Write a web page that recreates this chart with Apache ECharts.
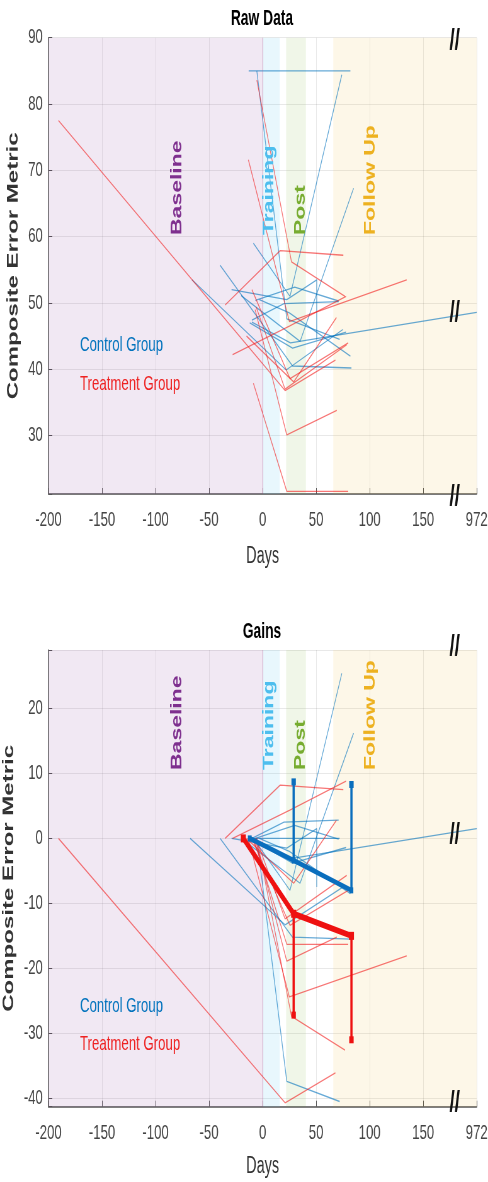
<!DOCTYPE html>
<html>
<head>
<meta charset="utf-8">
<script src="https://cdn.jsdelivr.net/npm/echarts@6/dist/echarts.min.js"></script>
<style>
  html, body { margin: 0; padding: 0; background: #fff; overflow: hidden; }
  /* the source figure is squeezed horizontally, so draw wide and squeeze */
  #chart { width: 775px; height: 1182px; transform: scaleX(0.6297); transform-origin: 0 0; }
</style>
</head>
<body>
<div id="chart"></div>
<script>
// x axis: -200..200, last tick stands for day 972 (axis break)
var xTickLabels = ['-200', '-150', '-100', '-50', '0', '50', '100', '150', '972'];

// Raw Data, one polyline per subject: [day, score]
var rawControl = [
    [[-13, 85], [35, 85], [82, 85]],
    [[-8.6, 59], [25.6, 51], [74, 84.4]],
    [[-5.4, 85], [22.6, 47.6], [72, 44.5]],
    [[-10, 47.1], [26, 44], [200, 48.6]],
    [[-20, 51.1], [35, 44.2], [85, 67.3]],
    [[-66, 53.5], [22, 39.9], [75, 46]],
    [[-39.7, 55.7], [28, 40.5], [83, 40.2]],
    [[-6.8, 50.4], [30, 52.4], [71, 50.3]],
    [[-10, 47.4], [20, 49.9], [71, 50.2]],
    [[-12, 47], [28, 43.2], [78, 45.6]],
    [[-3, 50.5], [25, 48.5], [82, 42]],
    [[-29, 52], [22.6, 50.5], [50.6, 53.5], [50.6, 44.5]]
];
var rawTreatment = [
    [[-190.7, 77.5], [21, 36.8], [68, 41.4]],
    [[-8.6, 37.9], [22.6, 21.6], [80, 21.6]],
    [[-7, 49], [22.6, 30.1], [69.3, 33.8]],
    [[-13.3, 71.6], [25, 47.2], [134.6, 53.5]],
    [[-35, 49.7], [16.4, 57.9], [75.4, 57.2]],
    [[-5.4, 83.6], [27, 56.2], [77, 51]],
    [[-28, 42.2], [25, 46.5], [78, 51]],
    [[-6, 49.4], [21, 37], [78.6, 43.7]],
    [[-10, 52], [25.6, 38.6], [80, 44]],
    [[-15, 45], [29, 38.1], [69, 47.8]]
];

// Gains, one polyline per subject: [day, change from baseline]
var gainControl = [
    [[-13, 0], [35, 0], [72, 0]],
    [[-8.6, 0], [25.6, -8], [74, 25.4]],
    [[-5.4, 0], [22.6, -37.4], [72, -40.5]],
    [[-10, 0], [26, -3.1], [200, 1.5]],
    [[-20, 0], [35, -6.9], [85, 16.2]],
    [[-67.7, 0], [21, -13.3], [75, -7.5]],
    [[-39.6, 0], [28, -15.2], [83, -15.5]],
    [[-6.8, 0], [30, 2], [71, -0.1]],
    [[-10, 0], [20, 2.5], [71, 2.8]],
    [[-12, 0], [28, -3.8], [78, -1.4]],
    [[-3, 0], [25, -2], [82, -8.5]],
    [[-29, 0], [22.6, -1.5], [50.6, 1.5], [50.6, -7.5]]
];
var gainTreatment = [
    [[-190.7, 0], [21, -40.7], [68, -36.1]],
    [[-8.6, 0], [22.6, -16.3], [80, -16.3]],
    [[-7, 0], [22.6, -18.9], [69.3, -15.2]],
    [[-13.3, 0], [25, -24.4], [134.6, -18.1]],
    [[-35, 0], [16.4, 8.2], [75.4, 7.5]],
    [[-5.4, 0], [27, -27.4], [77, -32.6]],
    [[-28, 0], [25, 4.3], [78, 8.8]],
    [[-6, 0], [21, -12.4], [78.6, -5.7]],
    [[-10, 0], [25.6, -13.4], [80, -8]],
    [[-15, 0], [29, -6.9], [69, 2.8]]
];

// group means of the gains and their one-sided error bars
var meanControl = [[-12, 0], [29, -3.4], [83, -8]];
var meanTreatment = [[-18, 0], [29, -11.6], [83, -15]];
var errDays = [29, 83];
var errControlTop = [8.7, 8.3];
var errTreatmentBottom = [-27.2, -31];

// study phases [from, to] in days
var phases = [
    ['Baseline', -200, 0],
    ['Training', 0, 16],
    ['Post', 22, 40.5],
    ['Follow Up', 66, 200]
];

var BLUE = '#0072bd', RED = '#f21a1a';
var FONT = '"Liberation Sans", Arial, sans-serif';
var phaseFill = ['rgba(126,47,142,0.11)', 'rgba(77,190,238,0.13)', 'rgba(119,172,48,0.11)', 'rgba(237,177,32,0.10)'];
var phaseText = ['#7e2f8e', '#4dbeee', '#77ac30', '#edb120'];
var phaseTextX = [281.6, 427.7, 477.5, 588.7];

var myChart = echarts.init(document.getElementById('chart'));

function xAxisOf(i, gap) {
    return {
        gridIndex: i, type: 'value', min: -200, max: 200, interval: 50,
        name: 'Days', nameLocation: 'middle', nameGap: gap,
        nameTextStyle: {fontSize: 23, color: '#333', fontFamily: FONT},
        axisLine: {onZero: false, lineStyle: {color: '#555', width: 1.5}},
        axisTick: {inside: true, length: 6, lineStyle: {color: '#555'}},
        axisLabel: {
            margin: 16, fontSize: 21, color: '#444', fontFamily: FONT,
            formatter: function (v) { return xTickLabels[Math.round((v + 200) / 50)]; }
        },
        splitLine: {show: true, lineStyle: {color: 'rgba(0,0,0,0.09)'}}
    };
}

function yAxisOf(i, min, max) {
    return {
        gridIndex: i, type: 'value', min: min, max: max,
        name: 'Composite Error Metric', nameLocation: 'middle', nameGap: 40,
        nameTextStyle: {fontSize: 24, fontWeight: 'bold', color: '#333', fontFamily: FONT},
        axisLine: {show: true, onZero: false, lineStyle: {color: '#555', width: 1.5}},
        axisTick: {show: true, inside: true, length: 6, lineStyle: {color: '#555'}},
        axisLabel: {
            margin: 9, fontSize: 21, color: '#444', fontFamily: FONT,
            formatter: function (v) { return Math.abs(v % 10) < 1e-6 ? String(v) : ''; }
        },
        splitLine: {show: true, lineStyle: {color: 'rgba(0,0,0,0.09)'}}
    };
}

// background bands + the day 0 line
function bands(i) {
    return {
        type: 'line', xAxisIndex: i, yAxisIndex: i, data: [], z: 1, silent: true,
        markArea: {
            silent: true,
            data: phases.map(function (p, k) {
                return [{xAxis: p[1], itemStyle: {color: phaseFill[k]}}, {xAxis: p[2]}];
            })
        },
        markLine: {
            silent: true, symbol: 'none', label: {show: false},
            lineStyle: {color: 'rgba(175,80,140,0.55)', width: 1, type: 'solid'},
            data: [{xAxis: 0}]
        }
    };
}

function thin(data, color, i) {
    return {
        type: 'line', xAxisIndex: i, yAxisIndex: i, data: data, symbol: 'none', z: 3, silent: true,
        lineStyle: {color: color, width: 1.3, opacity: 0.6}
    };
}

var series = [bands(0), bands(1)];
rawControl.forEach(function (d) { series.push(thin(d, BLUE, 0)); });
rawTreatment.forEach(function (d) { series.push(thin(d, RED, 0)); });
gainControl.forEach(function (d) { series.push(thin(d, BLUE, 1)); });
gainTreatment.forEach(function (d) { series.push(thin(d, RED, 1)); });

function errBar(day, from, to, color) {
    return {
        type: 'line', xAxisIndex: 1, yAxisIndex: 1, z: 5, silent: true,
        data: [{value: [day, from], symbol: 'none'}, {value: [day, to]}],
        symbol: 'rect', symbolSize: 7,
        lineStyle: {color: color, width: 3.5}, itemStyle: {color: color}
    };
}
errDays.forEach(function (d, k) {
    series.push(errBar(d, meanControl[k + 1][1], errControlTop[k], '#0a6ebd'));
});
series.push({
    type: 'line', xAxisIndex: 1, yAxisIndex: 1, data: meanControl, z: 6, silent: true,
    symbol: 'rect', symbolSize: 6, lineStyle: {color: '#0a6ebd', width: 5}, itemStyle: {color: '#0a6ebd'}
});
errDays.forEach(function (d, k) {
    series.push(errBar(d, meanTreatment[k + 1][1], errTreatmentBottom[k], '#ee1111'));
});
series.push({
    type: 'line', xAxisIndex: 1, yAxisIndex: 1, data: meanTreatment, z: 7, silent: true,
    symbol: 'rect', symbolSize: 8, lineStyle: {color: '#ee1111', width: 6}, itemStyle: {color: '#ee1111'}
});

function txt(x, y, s, fill, size, weight, align, rot) {
    return {
        type: 'text', x: x, y: y, rotation: rot || 0, z: 20, silent: true,
        style: {
            text: s, fill: fill, font: (weight || 'normal') + ' ' + size + 'px ' + FONT,
            textAlign: align || 'left', textVerticalAlign: 'middle', verticalAlign: 'middle'
        }
    };
}

var graphic = [];
[[19.3, 'Raw Data', 235, 345, 384, [41.7, 314, 497.5]],
 [631.7, 'Gains', 770, 1006.7, 1044, [647.5, 835.5, 1103.5]]].forEach(function (p) {
    graphic.push(txt(416, p[0], p[1], '#000', 22, 'bold', 'center'));
    phases.forEach(function (ph, k) {
        graphic.push(txt(phaseTextX[k], p[2], ph[0], phaseText[k], 23, 'bold', 'left', Math.PI / 2));
    });
    graphic.push(txt(127, p[3], 'Control Group', BLUE, 21));
    graphic.push(txt(127, p[4], 'Treatment Group', '#ee2222', 21));
    p[5].forEach(function (y) { graphic.push(txt(722, y, '//', '#111', 30, 'bold', 'center')); });
});

var option = {
    animation: false,
    grid: [
        {left: 77, right: 18, top: 37.7, height: 456.3, containLabel: false, outerBoundsMode: 'none'},
        {left: 77, right: 18, top: 650, height: 456.7, containLabel: false, outerBoundsMode: 'none'}
    ],
    xAxis: [xAxisOf(0, 51), xAxisOf(1, 48)],
    yAxis: [yAxisOf(0, 21.2, 90), yAxisOf(1, -41.3, 29)],
    series: series,
    graphic: graphic
};
myChart.setOption(option);
</script>
</body>
</html>
